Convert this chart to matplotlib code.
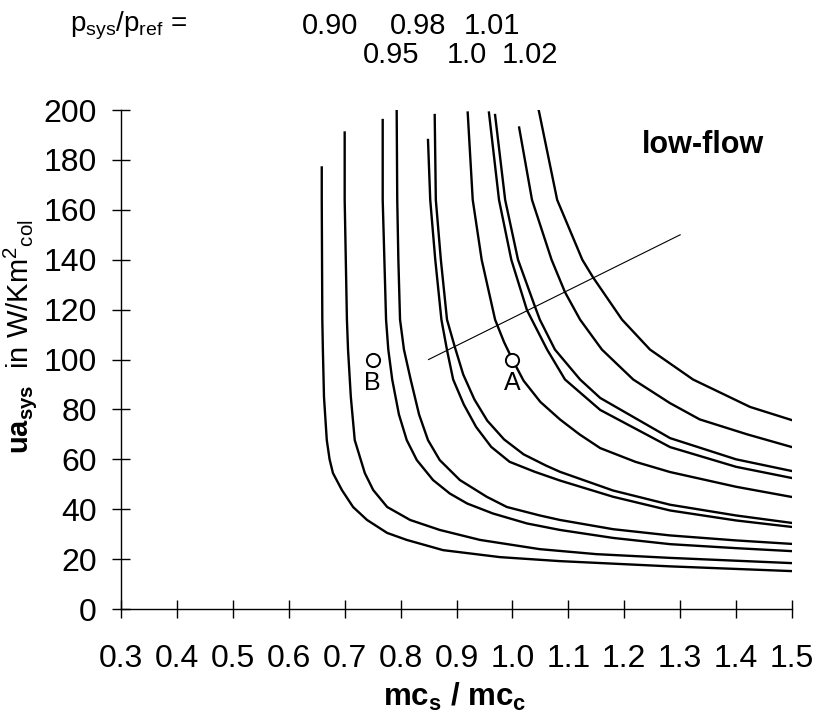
"""Low-flow curves: ua_sys against mc_s / mc_c for several p_sys/p_ref levels."""

import matplotlib

matplotlib.use("Agg")
import matplotlib.pyplot as plt

plt.rcParams.update(
    {
        "font.family": "Liberation Sans",
        "mathtext.fontset": "custom",
        "mathtext.rm": "Liberation Sans",
        "mathtext.it": "Liberation Sans",
        "mathtext.bf": "Liberation Sans:bold",
        "axes.linewidth": 1.0,
    }
)

# curves, left (lowest) to right (highest)
curve_1_x = [0.659, 0.659, 0.660, 0.661, 0.663, 0.668, 0.673, 0.679, 0.695, 0.715, 0.740, 0.776, 0.811, 0.876, 0.978, 1.085, 1.282, 1.5]
curve_1_y = [177, 164, 116, 104, 85, 67.7, 60, 54.5, 47.7, 40.9, 35.7, 30.5, 27.7, 23.6, 20.8, 19.2, 17.1, 15.2]

curve_2_x = [0.700, 0.700, 0.704, 0.706, 0.711, 0.718, 0.736, 0.751, 0.776, 0.817, 0.870, 0.942, 1.049, 1.15, 1.282, 1.5]
curve_2_y = [191, 164, 116, 104, 85, 67.7, 54.5, 47.7, 40.9, 35.7, 31.7, 27.7, 24.0, 22.0, 20.5, 18.4]

curve_3_x = [0.768, 0.768, 0.771, 0.774, 0.778, 0.785, 0.797, 0.811, 0.829, 0.858, 0.888, 0.919, 0.965, 1.026, 1.085, 1.18, 1.282, 1.4, 1.5]
curve_3_y = [196, 164, 140, 116, 104, 92, 78, 67.7, 59.7, 51.7, 46.3, 42.3, 38.3, 34.3, 31.7, 28.5, 26.0, 24.4, 23.2]

curve_4_x = [0.793, 0.794, 0.796, 0.799, 0.806, 0.818, 0.833, 0.849, 0.870, 0.906, 0.954, 0.99, 1.049, 1.085, 1.18, 1.282, 1.4, 1.5]
curve_4_y = [199.6, 164, 140, 116, 104, 92, 78, 67.7, 59.7, 51.7, 45, 40.9, 37.5, 35.7, 32, 29.5, 27.5, 26.1]

curve_5_x = [0.849, 0.853, 0.862, 0.873, 0.883, 0.894, 0.913, 0.935, 0.962, 0.995, 1.04, 1.085, 1.18, 1.282, 1.4, 1.5]
curve_5_y = [188, 164, 140, 116, 103.8, 92, 82, 73, 65, 59, 55, 51.5, 45, 39.5, 35.5, 32.9]

curve_6_x = [0.861, 0.863, 0.872, 0.883, 0.897, 0.912, 0.932, 0.955, 0.985, 1.02, 1.06, 1.085, 1.18, 1.282, 1.4, 1.5]
curve_6_y = [198, 164, 140, 116, 105, 94, 84, 75.5, 68, 62, 57.5, 55, 47.5, 41.8, 37.5, 34.5]

curve_7_x = [0.920, 0.929, 0.945, 0.969, 0.985, 1.0, 1.02, 1.05, 1.085, 1.12, 1.157, 1.22, 1.282, 1.4, 1.5]
curve_7_y = [199, 164, 140, 116, 107, 100, 91.5, 83, 76, 70, 64.5, 59, 54.9, 49, 44.9]

curve_8_x = [0.958, 0.976, 0.998, 1.026, 1.062, 1.094, 1.157, 1.282, 1.4, 1.5]
curve_8_y = [199, 164, 140, 119.8, 104, 92, 79.8, 64.9, 57, 52.5]

curve_9_x = [0.969, 0.987, 1.01, 1.040, 1.049, 1.076, 1.121, 1.157, 1.282, 1.4, 1.5]
curve_9_y = [198, 164, 140, 121.4, 116, 104, 92, 84.6, 68.5, 60, 55.3]

curve_10_x = [1.012, 1.035, 1.07, 1.094, 1.121, 1.160, 1.216, 1.282, 1.335, 1.42, 1.5]
curve_10_y = [193, 164, 140, 127, 116, 104, 92, 82.5, 76, 70, 64.9]

curve_11_x = [1.047, 1.080, 1.125, 1.144, 1.196, 1.246, 1.323, 1.425, 1.5]
curve_11_y = [200, 164, 140, 133, 116, 104, 92, 81, 75.7]

curves = [
    (curve_1_x, curve_1_y),
    (curve_2_x, curve_2_y),
    (curve_3_x, curve_3_y),
    (curve_4_x, curve_4_y),
    (curve_5_x, curve_5_y),
    (curve_6_x, curve_6_y),
    (curve_7_x, curve_7_y),
    (curve_8_x, curve_8_y),
    (curve_9_x, curve_9_y),
    (curve_10_x, curve_10_y),
    (curve_11_x, curve_11_y),
]

# thin straight line crossing the curves
cross_x = [0.85, 1.3]
cross_y = [100, 150]

# operating points
point_names = ["A", "B"]
point_x = [1.0, 0.75]
point_y = [100, 100]

# p_sys/p_ref values written above the plot (two staggered rows)
ratio_row_1 = ["0.90", "0.98", "1.01"]
ratio_row_2 = ["0.95", "1.0", "1.02"]

x_ticks = [0.3, 0.4, 0.5, 0.6, 0.7, 0.8, 0.9, 1.0, 1.1, 1.2, 1.3, 1.4, 1.5]
y_ticks = [0, 20, 40, 60, 80, 100, 120, 140, 160, 180, 200]

fig = plt.figure(figsize=(8.16, 7.16), dpi=100)
ax = fig.add_axes([0.1483, 0.1494, 0.8223, 0.6969])

for cx, cy in curves:
    ax.plot(cx, cy, color="black", linewidth=1.7, solid_joinstyle="round")

ax.plot(cross_x, cross_y, color="black", linewidth=0.8)

ax.plot(point_x, point_y, linestyle="none", marker="o", markersize=9.5,
        markerfacecolor="white", markeredgecolor="black", markeredgewidth=1.4, zorder=5)
for name, px, py in zip(point_names, point_x, point_y):
    ax.text(px, py - 4.5, name, ha="center", va="top", fontsize=18)

ax.text(1.34, 186, "low-flow", ha="center", va="center", fontsize=22, fontweight="bold")

ax.set_xlim(0.3, 1.5)
ax.set_ylim(0, 200)
ax.set_xticks(x_ticks)
ax.set_xticklabels([f"{v:.1f}" for v in x_ticks])
ax.set_yticks(y_ticks)
ax.tick_params(direction="inout", length=13, width=1.0, labelsize=23)
ax.tick_params(axis="x", pad=19)
ax.tick_params(axis="y", pad=11)
for side in ("top", "right"):
    ax.spines[side].set_visible(False)

ax.set_xlabel(r"$\mathbf{mc_s}$ / $\mathbf{mc_c}$", fontsize=22.5, fontweight="bold", va="center")
ax.xaxis.set_label_coords(0.498, -0.176)

fig.text(0.025, 0.53, r"$\mathbf{ua_{sys}}$  in W/Km$^2$$_{\rm col}$",
         rotation=90, ha="center", va="center", fontsize=21)

fig.text(0.086, 0.964, r"p$_{\rm sys}$/p$_{\rm ref}$ =", ha="left", va="center", fontsize=20)
for label, xpos in zip(ratio_row_1, [0.404, 0.513, 0.603]):
    fig.text(xpos, 0.964, label, ha="center", va="center", fontsize=21)
for label, xpos in zip(ratio_row_2, [0.479, 0.572, 0.650]):
    fig.text(xpos, 0.923, label, ha="center", va="center", fontsize=21)

fig.savefig("out.png", dpi=100)
